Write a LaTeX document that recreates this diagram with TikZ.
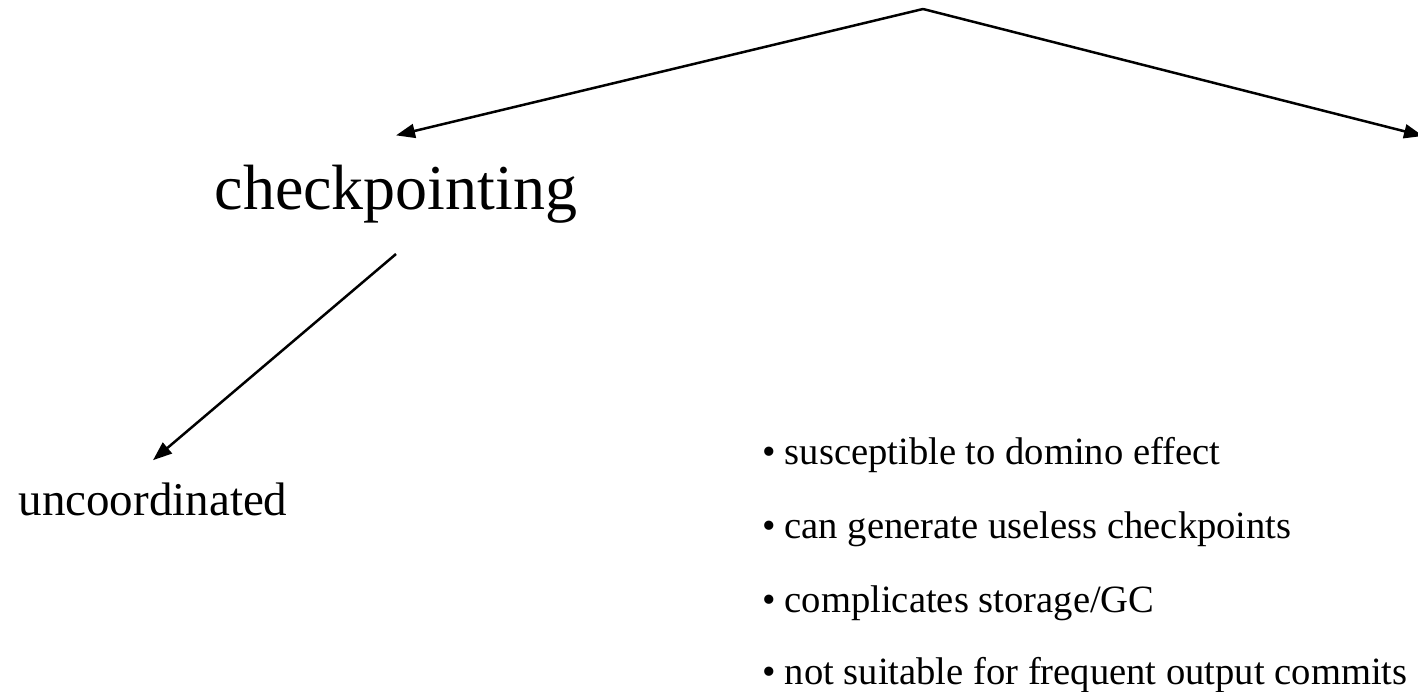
\documentclass[tikz,border=0pt]{standalone}
\usepackage{fontspec}
\setmainfont{Liberation Serif}
\usetikzlibrary{arrows.meta}
\newcommand{\itemdot}{\textbullet\hspace{9pt}}
\begin{document}
\begin{tikzpicture}[x=1pt,y=-1pt,
  link/.style={line width=2.5pt,-{Triangle[length=19pt,width=14pt]}},
  bulletline/.style={anchor=base west,inner sep=0pt,font=\fontsize{38.6}{46}\selectfont}]
  \useasboundingbox (0,0) rectangle (1418,692);

  % tree nodes
  \coordinate (apex) at (923,9);
  \coordinate (rt) at (1423,136);
  \node[anchor=base,inner sep=30pt,font=\fontsize{64}{76}\selectfont] (cp) at (396,210) {checkpointing};
  \node[anchor=base,inner sep=22pt,font=\fontsize{47}{56}\selectfont] (unc) at (153,515) {uncoordinated};

  % connectors
  \draw[link] (apex) -- (cp.north);
  \draw[link] (apex) -- (rt);
  \draw[link] (cp.south) -- (unc.north);

  % properties of uncoordinated checkpointing
  \node[bulletline] (b1) at (762,464) {\itemdot susceptible to domino effect};
  \node[bulletline] (b2) at (762,538) {\itemdot can generate useless checkpoints};
  \node[bulletline] (b3) at (762,612) {\itemdot complicates storage/GC};
  \node[bulletline] (b4) at (762,684) {\itemdot not suitable for frequent output commits};
\end{tikzpicture}
\end{document}
